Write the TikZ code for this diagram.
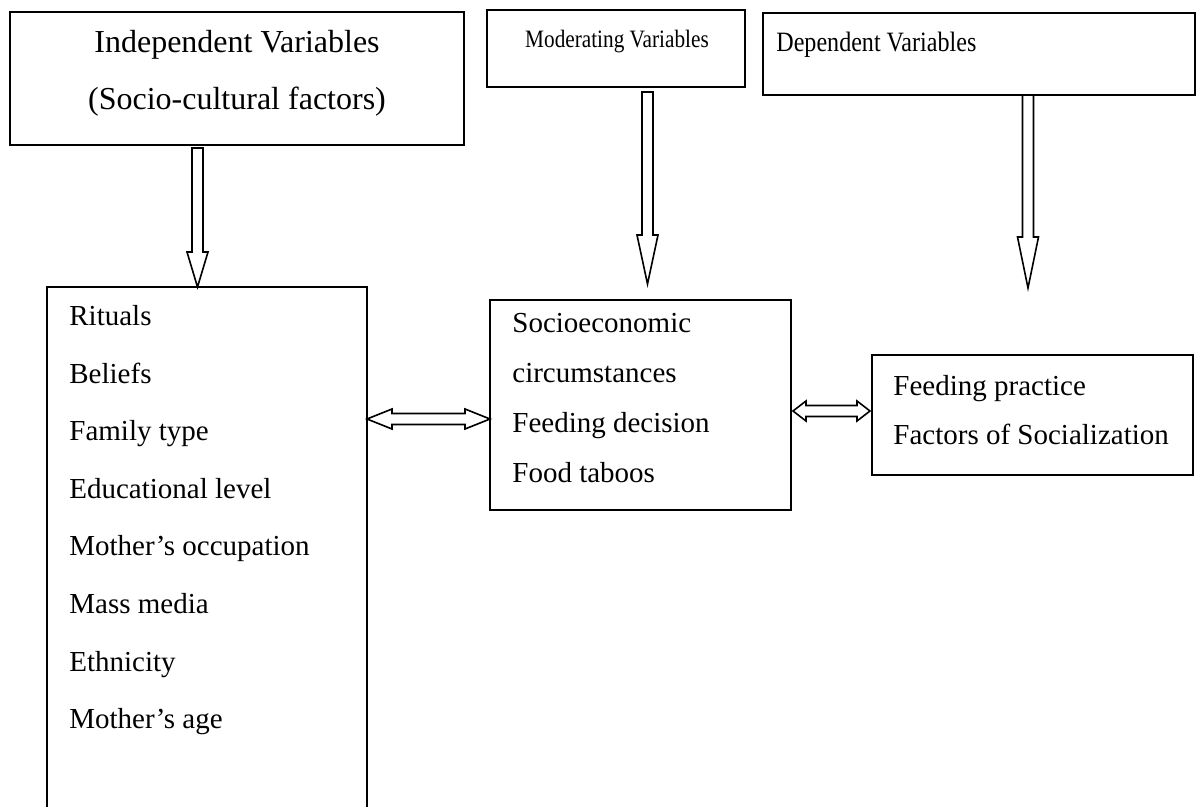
\documentclass[tikz,border=0pt]{standalone}
\usepackage{fontspec}
\usepackage{graphicx}
\setmainfont{Liberation Serif}
\usetikzlibrary{calc}

\begin{document}
\begin{tikzpicture}[x=0.5pt, y=-0.5pt,
    % Styles
    box/.style={rectangle, draw=black, line width=0.9pt, anchor=north west, inner sep=0pt, outer sep=0pt},
    item/.style={anchor=base west, inner sep=0pt, font=\fontsize{14.5}{17}\selectfont},
    title/.style={anchor=base, inner sep=0pt, font=\fontsize{16}{19}\selectfont},
    hollow/.style={draw=black, line width=0.8pt, fill=white, line join=miter},
    downblock/.style={hollow, to path={let \p1=(\tikztostart), \p2=(\tikztotarget) in
        (\x1-2.75pt,\y1) -- (\x1-2.75pt,\y2+#1) -- (\x1-5.25pt,\y2+#1) -- (\x1,\y2)
        -- (\x1+5.25pt,\y2+#1) -- (\x1+2.75pt,\y2+#1) -- (\x1+2.75pt,\y1) -- cycle}},
    dblblock/.style={hollow, to path={let \p1=(\tikztostart), \p2=(\tikztotarget) in
        (\x1,\y1) -- (\x1+#1,\y1+5pt) -- (\x1+#1,\y1+2.75pt) -- (\x2-#1,\y1+2.75pt)
        -- (\x2-#1,\y1+5pt) -- (\x2,\y1) -- (\x2-#1,\y1-5pt) -- (\x2-#1,\y1-2.75pt)
        -- (\x1+#1,\y1-2.75pt) -- (\x1+#1,\y1-5pt) -- cycle}}
  ]
  \useasboundingbox (0,0) rectangle (1200,807);

  % Top boxes
  \node[box, minimum width=227pt, minimum height=66.5pt] (indep) at (10,12) {};
  \node[title] (indeptitle) at (237,53) {Independent Variables};
  \node[title] (indepsub) at (237,110) {(Socio-cultural factors)};

  \node[box, minimum width=129pt, minimum height=38.5pt] (moder) at (487,10) {};
  \node[title, font=\fontsize{12.5}{15}\selectfont] (modertitle) at (617,48) {\scalebox{0.85}[1]{Moderating Variables}};

  \node[box, minimum width=216pt, minimum height=41pt] (dep) at (763,13) {};
  \node[title, anchor=base west, font=\fontsize{14}{17}\selectfont] (deptitle) at (776,52) {\scalebox{0.86}[1]{Dependent Variables}};

  % Factor boxes
  \node[box, minimum width=160pt, minimum height=262pt] (list) at (47,287) {};
  \foreach \txt [count=\i from 0] in {Rituals, Beliefs, Family type, Educational level,
      Mother’s occupation, Mass media, Ethnicity, Mother’s age}
    \node[item] (li\i) at (69,{326+57.5*\i}) {\txt};

  \node[box, minimum width=150.5pt, minimum height=105pt] (mid) at (490,300) {};
  \foreach \txt [count=\i from 0] in {Socioeconomic, circumstances, Feeding decision, Food taboos}
    \node[item] (mi\i) at (512,{333+50*\i}) {\txt};

  \node[box, minimum width=160.5pt, minimum height=60pt] (outcome) at (872,355) {};
  \node[item] (oc0) at (893,396) {Feeding practice};
  \node[item] (oc1) at (893,445) {Factors of Socialization};

  % Arrows
  \draw[downblock=17.5pt] ([xshift=-19.75pt, yshift=-1.5pt]indep.south) to ([xshift=-4.75pt]list.north);
  \draw[downblock=24.5pt] ([xshift=15.75pt, yshift=-2.5pt]moder.south) to ([xshift=3.5pt, yshift=8pt]mid.north);
  \draw[downblock=25.5pt] ([xshift=24.5pt]dep.south) to ([xshift=-2.25pt, yshift=33.5pt]outcome.north);
  \draw[dblblock=12.5pt] ([yshift=-66pt]list.north east) to ([yshift=-59.5pt]mid.north west);
  \draw[dblblock=6.5pt] ([xshift=1pt, yshift=-55.5pt]mid.north east) to ([xshift=-1pt, yshift=-28pt]outcome.north west);
\end{tikzpicture}
\end{document}
